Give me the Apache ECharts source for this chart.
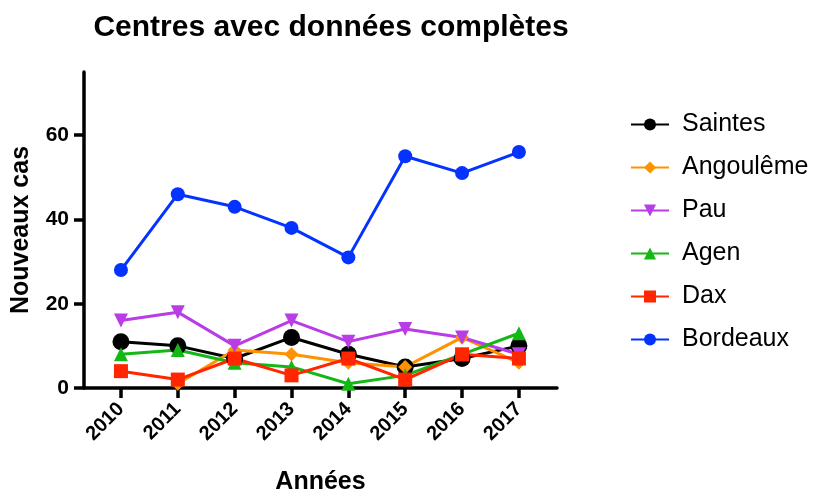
<!DOCTYPE html>
<html>
<head>
<meta charset="utf-8">
<script src="https://cdn.jsdelivr.net/npm/echarts@6/dist/echarts.min.js"></script>
<style>
  html, body { margin: 0; padding: 0; background: #fff; }
  #chart { width: 816px; height: 492px; }
</style>
</head>
<body>
<div id="chart"></div>
<script>
  // données
  const years = [2010, 2011, 2012, 2013, 2014, 2015, 2016, 2017]
  const saintes = [11, 10, 7, 12, 8, 5, 7, 10]
  const angouleme = [null, 1, 9, 8, 6, 5, 12, 6]
  const pau = [16, 18, 10, 16, 11, 14, 12, 8]
  const agen = [8, 9, 6, 5, 1, 3, 8, 13]
  const dax = [4, 2, 7, 3, 7, 2, 8, 7]
  const bordeaux = [28, 46, 43, 38, 31, 55, 51, 56]
  const yTicks = [0, 20, 40, 60]

  const font = 'Liberation Sans, Arial, sans-serif'
  const pairs = vals => years.map((y, i) => [y, vals[i]])

  function serie (name, vals, color, symbol, size) {
    return {
      name: name,
      type: 'line',
      data: pairs(vals),
      symbol: symbol,
      symbolSize: size,
      color: color,
      lineStyle: { width: 3, color: color },
      itemStyle: { color: color },
      connectNulls: false
    }
  }

  let myChart = echarts.init(document.getElementById('chart'))
  myChart.setOption({
    animation: false,
    title: {
      text: 'Centres avec données complètes',
      left: 326,
      textAlign: 'center',
      top: 8,
      textStyle: { fontFamily: font, fontSize: 30, fontWeight: 'bold', color: '#000' }
    },
    legend: {
      orient: 'vertical',
      left: 625,
      top: 107,
      itemWidth: 38,
      itemHeight: 15,
      itemGap: 18,
      textStyle: { fontFamily: font, fontSize: 25, color: '#000', padding: [0, 0, 0, 8] },
      data: ['Saintes', 'Angoulême', 'Pau', 'Agen', 'Dax', 'Bordeaux']
    },
    grid: { left: 84, right: 259, top: 72, bottom: 104, outerBoundsMode: 'none', containLabel: false },
    xAxis: {
      type: 'value',
      min: 2009.35,
      max: 2017.67,
      name: 'Années',
      nameLocation: 'middle',
      nameGap: 82,
      nameTextStyle: { fontFamily: font, fontSize: 25, fontWeight: 'bold', color: '#000' },
      axisLine: { lineStyle: { color: '#000', width: 3.5 } },
      axisTick: { show: true, length: 10, lineStyle: { color: '#000', width: 3.5 }, customValues: years },
      axisLabel: {
        customValues: years,
        rotate: 45,
        margin: 18,
        fontFamily: font,
        fontSize: 20,
        fontWeight: 'bold',
        color: '#000',
        formatter: v => String(v)
      },
      splitLine: { show: false }
    },
    yAxis: {
      type: 'value',
      min: 0,
      max: 75,
      name: 'Nouveaux cas',
      nameLocation: 'middle',
      nameGap: 50,
      nameTextStyle: { fontFamily: font, fontSize: 25, fontWeight: 'bold', color: '#000' },
      axisLine: { show: true, lineStyle: { color: '#000', width: 3.5 } },
      axisTick: { show: true, length: 10, lineStyle: { color: '#000', width: 3.5 }, customValues: yTicks },
      axisLabel: {
        customValues: yTicks,
        margin: 15,
        fontFamily: font,
        fontSize: 21,
        fontWeight: 'bold',
        color: '#000'
      },
      splitLine: { show: false }
    },
    series: [
      serie('Saintes', saintes, '#000000', 'circle', 17),
      serie('Angoulême', angouleme, '#ff9200', 'diamond', 14),
      serie('Pau', pau, '#b93ce6', 'path://M0,0 L10,0 L5,9 Z', 14),
      serie('Agen', agen, '#14b814', 'triangle', 14),
      serie('Dax', dax, '#ff2600', 'rect', 14),
      serie('Bordeaux', bordeaux, '#0433ff', 'circle', 14)
    ]
  })
</script>
</body>
</html>
